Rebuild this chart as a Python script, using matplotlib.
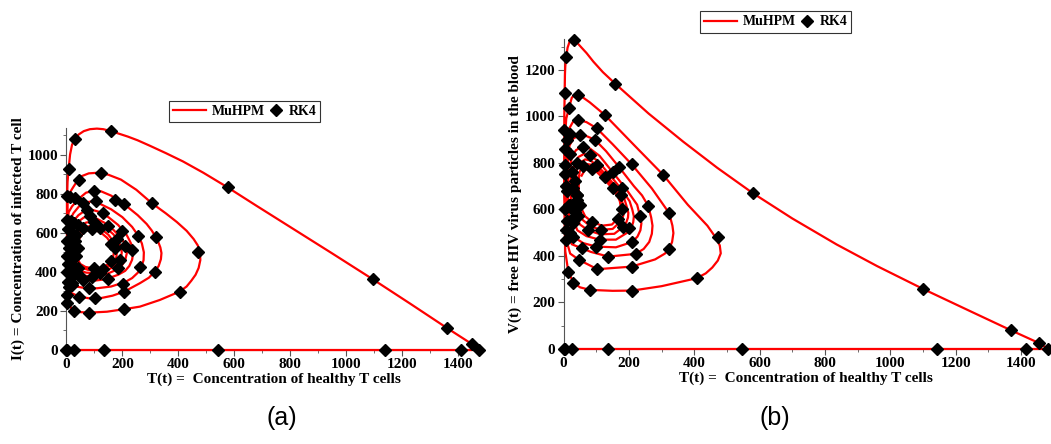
import matplotlib.pyplot as plt
from matplotlib.ticker import MultipleLocator
from matplotlib.legend_handler import HandlerLine2D
import numpy as np

# ---------------- panel (a): T(t) vs I(t) ----------------
# MuHPM trajectory
Ta = [0, 1477,
      1450, 1363, 1230, 1096, 950, 800, 680, 577, 490, 417, 355, 299, 255, 220, 188, 160, 132, 109, 84, 62, 44, 30, 20, 13, 8,
      4, 2, 2, 2, 3, 7, 17, 28, 50, 79, 145, 207, 263, 334, 405, 430, 447, 462, 473, 479, 478, 470, 455, 430, 395, 355, 305, 250, 195, 150, 110, 80, 55, 40, 25, 12, 7,
      4, 3, 3, 4, 8, 20, 46, 79, 121, 165, 207, 263, 295, 316, 330, 338, 340, 336, 328, 320, 305, 287, 255, 206, 160, 124, 97, 70, 44, 20, 8,
      6, 5, 5, 7, 14, 35, 70, 110, 160, 210, 235, 255, 268, 276, 277, 270, 257, 235, 200, 160, 120, 95, 70, 45, 25, 12,
      11, 9, 10, 13, 25, 55, 95, 140, 185, 210, 225, 235, 239, 236, 226, 215, 185, 150, 115, 90, 65, 43, 25, 16,
      17, 15, 16, 20, 33, 62, 100, 140, 178, 197, 210, 216, 214, 204, 185, 168, 135, 105, 85, 62, 42, 28, 22,
      22, 21, 23, 28, 42, 70, 105, 140, 172, 186, 195, 198, 194, 184, 168, 150, 120, 95, 70, 50, 36, 28,
      29, 28, 31, 37, 52, 78, 110, 140, 165, 174, 179, 180, 176, 167, 150, 135, 110, 90, 70, 53, 42, 35,
      35, 36, 40, 50, 68, 95, 122, 148, 160, 167, 170, 167, 158, 145, 128, 105, 88, 70, 56, 46, 42]
Ia = [0, 0,
      31, 111, 237, 362, 495, 630, 738, 832, 907, 965, 1008, 1045, 1073, 1092, 1107, 1120, 1130, 1133, 1130, 1120, 1103, 1080, 1050, 1000, 928,
      860, 760, 600, 450, 330, 250, 214, 201, 194, 191, 196, 209, 222, 256, 299, 325, 355, 385, 420, 460, 500, 535, 568, 610, 655, 700, 752, 820, 872, 897, 907, 904, 890, 868, 835, 805, 790,
      760, 650, 500, 380, 316, 290, 273, 265, 265, 278, 299, 342, 370, 401, 430, 465, 496, 525, 555, 578, 612, 645, 690, 747, 790, 812, 815, 805, 774, 735, 705,
      680, 600, 480, 390, 345, 325, 316, 316, 325, 348, 368, 395, 425, 460, 500, 545, 585, 630, 680, 720, 748, 761, 756, 735, 700, 665,
      640, 560, 470, 410, 375, 358, 354, 362, 385, 405, 430, 462, 500, 530, 560, 590, 640, 680, 708, 718, 712, 690, 660, 635,
      610, 540, 470, 425, 395, 380, 376, 386, 410, 430, 458, 495, 525, 555, 590, 615, 652, 675, 684, 678, 656, 630, 605,
      590, 530, 470, 435, 410, 396, 393, 404, 428, 445, 470, 500, 530, 560, 592, 615, 645, 658, 652, 630, 605, 585,
      570, 520, 470, 445, 422, 410, 407, 418, 440, 455, 478, 505, 530, 558, 590, 607, 630, 636, 630, 610, 588, 565,
      550, 500, 465, 440, 425, 418, 420, 437, 452, 475, 500, 525, 550, 575, 595, 614, 618, 610, 592, 570, 548]

# RK4 points
rk_Ta = [0, 2, 26, 134, 543, 1141, 1410, 1477, 1450, 1363, 1096, 577, 160, 30, 8,
         2, 12, 32, 3, 15, 28, 40, 5, 20, 35, 2, 15, 30, 8, 25, 40, 3, 18, 35, 5, 25, 40, 2, 15, 30, 50, 5, 20, 8, 3, 2,
         28, 79, 207, 405, 470, 305, 123, 44,
         46, 103, 207, 316, 320, 206, 97, 174,
         20, 80, 203, 263, 257, 105, 60,
         60, 150, 233, 200, 130, 75,
         90, 185, 210, 150, 85,
         120, 192, 180, 100,
         130, 175, 120, 60,
         100, 160, 160, 90]
rk_Ia = [0, 0, 0, 0, 0, 0, 0, 0, 31, 111, 362, 832, 1120, 1080, 928,
         790, 785, 778, 665, 660, 650, 640, 620, 600, 590, 560, 550, 560, 520, 510, 520, 480, 470, 480, 440, 430, 420, 400, 395, 390, 380, 350, 345, 320, 280, 240,
         201, 191, 209, 299, 504, 752, 907, 868,
         273, 265, 299, 401, 578, 747, 815, 770,
         335, 316, 340, 427, 585, 760, 750,
         357, 365, 513, 610, 700, 715,
         376, 420, 530, 635, 684,
         395, 462, 570, 655,
         412, 520, 625, 622,
         418, 455, 545, 617]

# ---------------- panel (b): T(t) vs V(t) ----------------
Tb = [0, 1484,
      1456, 1370, 1250, 1099, 960, 836, 700, 579, 470, 366, 260, 158, 120, 91, 70, 50, 40, 31, 24, 18, 12, 8, 5, 4, 3,
      2, 2, 2, 3, 5, 14, 30, 50, 81, 150, 210, 300, 407, 435, 455, 472, 481, 478, 465, 440, 380, 305, 220, 126, 80, 58, 45, 32, 25, 16, 8,
      5, 4, 4, 6, 8, 20, 47, 103, 208, 280, 310, 323, 332, 336, 333, 323, 300, 270, 208, 150, 101, 70, 45, 28, 16, 10,
      8, 7, 8, 12, 25, 55, 84, 137, 221, 245, 262, 270, 272, 268, 259, 240, 215, 170, 130, 96, 70, 50, 30, 18,
      14, 13, 14, 18, 32, 60, 100, 160, 210, 226, 235, 238, 234, 225, 190, 150, 110, 80, 58, 38, 26,
      22, 21, 23, 28, 42, 70, 110, 160, 195, 207, 213, 215, 210, 202, 175, 140, 105, 80, 62, 45, 34,
      31, 30, 32, 37, 50, 75, 112, 155, 183, 192, 197, 198, 193, 186, 163, 132, 102, 82, 66, 52, 42,
      39, 38, 40, 45, 58, 82, 115, 150, 172, 180, 184, 185, 181, 175, 155, 128, 102, 84, 70, 58, 49,
      47, 46, 48, 54, 66, 88, 118, 148, 165, 171, 174, 175, 172, 166, 148, 124, 102, 86, 74, 63, 55]
Vb = [0, 0,
      25, 80, 159, 259, 356, 449, 561, 670, 779, 891, 1012, 1140, 1190, 1235, 1272, 1303, 1318, 1327, 1330, 1320, 1295, 1257, 1215, 1180, 1102,
      1000, 850, 700, 550, 420, 333, 285, 265, 254, 250, 251, 270, 304, 325, 350, 380, 411, 445, 480, 530, 620, 748, 870, 1006, 1060, 1082, 1092, 1090, 1080, 1035, 990,
      930, 800, 650, 520, 470, 410, 383, 343, 354, 385, 410, 430, 460, 498, 530, 584, 630, 690, 794, 880, 949, 975, 985, 975, 945, 900,
      850, 720, 600, 500, 450, 433, 417, 397, 409, 430, 460, 495, 530, 565, 615, 660, 700, 781, 850, 899, 915, 920, 905, 875,
      830, 720, 620, 540, 480, 455, 440, 437, 460, 483, 510, 540, 570, 620, 690, 760, 830, 862, 870, 855, 830,
      800, 710, 630, 560, 510, 485, 470, 470, 500, 520, 545, 570, 600, 635, 690, 750, 808, 832, 838, 825, 800,
      775, 700, 640, 580, 535, 510, 493, 495, 525, 545, 565, 585, 612, 645, 690, 745, 790, 810, 815, 802, 780,
      755, 700, 645, 595, 555, 527, 512, 516, 545, 562, 580, 600, 625, 650, 690, 738, 775, 792, 795, 783, 762,
      740, 690, 645, 605, 570, 545, 530, 535, 560, 578, 595, 612, 635, 655, 692, 730, 760, 775, 778, 765, 745]

rk_Tb = [0, 3, 27, 135, 545, 1144, 1416, 1484, 1456, 1370, 1099, 579, 158, 31, 8, 3,
         2, 14, 30, 81, 210, 407, 473, 305, 126, 45, 16,
         3, 8, 47, 103, 208, 323, 323, 208, 101, 45, 20,
         55, 137, 221, 259, 170, 96, 50, 8,
         30, 100, 210, 234, 150, 60, 15,
         110, 200, 180, 80, 25, 40,
         75, 183, 175, 102, 35,
         115, 180, 128, 60, 42,
         88, 165, 150, 86, 50,
         5, 10, 20, 5, 25, 35, 10, 30, 40, 5, 20, 40, 10, 28, 45, 8, 20]
rk_Vb = [0, 0, 0, 0, 0, 0, 0, 0, 25, 80, 259, 670, 1140, 1327, 1257, 1102,
         940, 333, 285, 254, 251, 304, 480, 748, 1006, 1092, 1035,
         790, 470, 383, 343, 354, 430, 584, 794, 949, 985, 925,
         433, 397, 409, 615, 781, 899, 920, 700,
         480, 440, 460, 570, 760, 870, 620,
         470, 520, 690, 832, 560, 800,
         510, 525, 660, 790, 590,
         512, 600, 738, 785, 660,
         545, 560, 692, 775, 620,
         860, 900, 840, 750, 760, 720, 680, 690, 640, 600, 620, 660, 550, 540, 570, 510, 500]


class MarkerRight(HandlerLine2D):
    # diamond sits near the right end of its handle box (next to the text)
    def get_xdata(self, legend, xdescent, ydescent, width, height, fontsize):
        xd = np.array([-xdescent + width - 10, -xdescent + width])
        return xd, xd


serif = {'family': 'Liberation Serif', 'weight': 'bold'}

fig = plt.figure(figsize=(10.51, 4.44), dpi=100)
ax_a = fig.add_axes([0.0632, 0.2117, 0.3947, 0.5004])
ax_b = fig.add_axes([0.5363, 0.214, 0.4612, 0.698])


def style(ax, xmax, ymax, ylab):
    ax.set_xlim(0, xmax)
    ax.set_ylim(0, ymax)
    for s in ['top', 'right']:
        ax.spines[s].set_visible(False)
    for s in ['left', 'bottom']:
        ax.spines[s].set_linewidth(0.8)
        ax.spines[s].set_color('#555555')
    ax.xaxis.set_major_locator(MultipleLocator(200))
    ax.xaxis.set_minor_locator(MultipleLocator(100))
    ax.yaxis.set_major_locator(MultipleLocator(200))
    ax.yaxis.set_minor_locator(MultipleLocator(100))
    ax.tick_params(which='major', direction='out', length=4, width=0.8, color='#555555', pad=2)
    ax.tick_params(which='minor', direction='out', length=2.5, width=0.6, color='#555555')
    for lab in ax.get_xticklabels() + ax.get_yticklabels():
        lab.set_fontfamily('Liberation Serif')
        lab.set_fontweight('bold')
        lab.set_fontsize(11)
    ax.set_xlabel('T(t) =  Concentration of healthy T cells', fontdict=serif, fontsize=11, labelpad=1)
    ax.set_ylabel(ylab, fontdict=serif, fontsize=11, labelpad=2)


for ax, T, Y, rT, rY in [(ax_a, Ta, Ia, rk_Ta, rk_Ia), (ax_b, Tb, Vb, rk_Tb, rk_Vb)]:
    ax.plot(T, Y, color='red', lw=1.6, clip_on=False, zorder=3, label='MuHPM',
            solid_joinstyle='round')
    ax.plot(rT, rY, 'D', color='black', ms=6, clip_on=False, zorder=4, label='RK4')

style(ax_a, 1484, 1137, 'I(t) = Concentration of infected T cell')
style(ax_b, 1484, 1332, 'V(t) = free HIV virus particles in the blood')

for ax, cx, cy in [(ax_a, 0.2326, 0.7489), (ax_b, 0.7379, 0.9505)]:
    h, l = ax.get_legend_handles_labels()
    leg = ax.legend(h, l, loc='center', bbox_to_anchor=(cx, cy), bbox_transform=fig.transFigure,
                    ncol=2, frameon=True, fancybox=False, edgecolor='black',
                    prop={'family': 'Liberation Serif', 'weight': 'bold', 'size': 10},
                    handlelength=2.4, handletextpad=0.4, columnspacing=-1.1,
                    borderpad=0.3, borderaxespad=0,
                    handler_map={h[1]: MarkerRight(numpoints=1)})
    leg.get_frame().set_linewidth(0.8)

fig.text(0.268, 0.058, '(a)', fontsize=18, family='Liberation Sans', ha='center', va='center')
fig.text(0.737, 0.058, '(b)', fontsize=18, family='Liberation Sans', ha='center', va='center')

fig.savefig('out.png', dpi=100)
